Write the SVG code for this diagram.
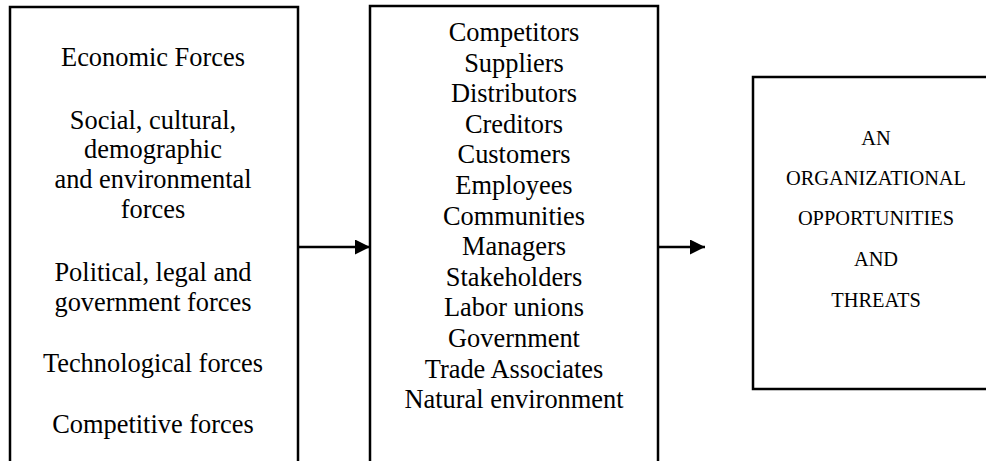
<svg xmlns="http://www.w3.org/2000/svg" width="986" height="461" viewBox="0 0 986 461">
<defs>
<marker id="ah" markerWidth="16" markerHeight="15" refX="15" refY="7.5" orient="auto" markerUnits="userSpaceOnUse">
<path d="M0,0 L15,7.5 L0,15 Z" fill="#000"/>
</marker>
</defs>
<style>
.box{fill:#fff;stroke:#000;stroke-width:2.5}
.t{font-family:"Liberation Serif","Times New Roman",serif;font-size:26.4px;fill:#000;text-anchor:middle}
.s{font-family:"Liberation Serif","Times New Roman",serif;font-size:20.4px;fill:#000;text-anchor:middle}
.c{stroke:#000;stroke-width:2.3;fill:none}
</style>
<rect width="986" height="461" fill="#fff"/>
<g id="forces">
<rect class="box" x="10" y="7" width="288" height="470"/>
<text class="t" x="153" y="66">Economic Forces</text>
<text class="t" x="153" y="129">Social, cultural,</text>
<text class="t" x="153" y="158">demographic</text>
<text class="t" x="153" y="188">and environmental</text>
<text class="t" x="153" y="218">forces</text>
<text class="t" x="153" y="281">Political, legal and</text>
<text class="t" x="153" y="311">government forces</text>
<text class="t" x="153" y="372">Technological forces</text>
<text class="t" x="153" y="433">Competitive forces</text>
</g>
<g id="stakeholders">
<rect class="box" x="370" y="6" width="288" height="470"/>
<text class="t" x="514" y="41">Competitors</text>
<text class="t" x="514" y="71.6">Suppliers</text>
<text class="t" x="514" y="102.2">Distributors</text>
<text class="t" x="514" y="132.8">Creditors</text>
<text class="t" x="514" y="163.4">Customers</text>
<text class="t" x="514" y="194">Employees</text>
<text class="t" x="514" y="224.6">Communities</text>
<text class="t" x="514" y="255.2">Managers</text>
<text class="t" x="514" y="285.8">Stakeholders</text>
<text class="t" x="514" y="316.4">Labor unions</text>
<text class="t" x="514" y="347">Government</text>
<text class="t" x="514" y="377.6">Trade Associates</text>
<text class="t" x="514" y="408.2">Natural environment</text>
</g>
<g id="organization">
<rect class="box" x="753" y="77" width="250" height="312"/>
<text class="s" x="876" y="145">AN</text>
<text class="s" x="876" y="185">ORGANIZATIONAL</text>
<text class="s" x="876" y="225">OPPORTUNITIES</text>
<text class="s" x="876" y="266">AND</text>
<text class="s" x="876" y="307">THREATS</text>
</g>
<g id="connectors">
<line class="c" x1="299" y1="247" x2="370" y2="247" marker-end="url(#ah)"/>
<line class="c" x1="659" y1="247" x2="705" y2="247" marker-end="url(#ah)"/>
</g>
</svg>
